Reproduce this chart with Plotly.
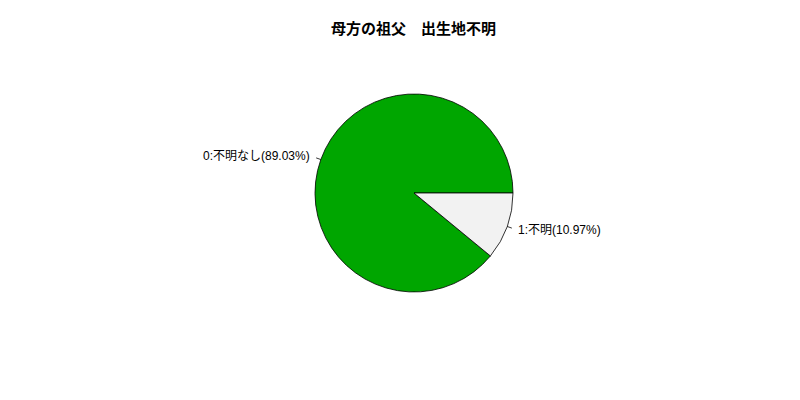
import numpy as np
import plotly.graph_objects as go

title = "母方の祖父　出生地不明"
labels = ["0:不明なし", "1:不明"]
shares = [89.03, 10.97]
colors = ["#00A600", "#F2F2F2"]

W, H = 800, 400
OFF = 8  # page body margin of the written html
cx, cy, r = 414 - OFF, 193 - OFF, 99  # pie centre / radius in px (from top)

def px2paper(x, y):
    return x / W, 1 - y / H

x0, y1 = px2paper(cx - r, cy - r)
x1, y0 = px2paper(cx + r, cy + r)

total = sum(shares)
fig = go.Figure(go.Pie(
    labels=labels, values=shares, sort=False,
    direction="counterclockwise",
    # first slice should start at 3 o'clock like R's pie()
    rotation=90 + 360 * (1 - shares[0] / total),
    marker=dict(colors=colors, line=dict(color="black", width=0.8)),
    textinfo="none", hoverinfo="label+percent",
    domain=dict(x=[x0, x1], y=[y0, y1]),
    showlegend=False,
))

# R-style labels: tick from r to 1.05r, text at 1.1r at each slice midpoint
start = 0.0
shapes, annos = [], []
for lab, v in zip(labels, shares):
    mid = np.deg2rad((start + v / 2) / total * 360)
    start += v
    c, s = np.cos(mid), np.sin(mid)
    ax0, ay0 = px2paper(cx + r * c, cy - r * s)
    ax1, ay1 = px2paper(cx + 1.05 * r * c, cy - 1.05 * r * s)
    tx, ty = px2paper(cx + 1.1 * r * c, cy - 1.1 * r * s)
    shapes.append(dict(type="line", xref="paper", yref="paper",
                       x0=ax0, y0=ay0, x1=ax1, y1=ay1,
                       line=dict(color="black", width=0.8)))
    annos.append(dict(xref="paper", yref="paper", x=tx, y=ty,
                      text=f"{lab}({v:.2f}%)", showarrow=False,
                      xanchor="right" if c < 0 else "left", yanchor="middle",
                      font=dict(size=12, color="black")))

annos.append(dict(xref="paper", yref="paper", x=(414 - OFF) / W, y=1 - (29 - OFF) / H,
                  text="<b>" + title + "</b>", showarrow=False,
                  xanchor="center", yanchor="middle",
                  font=dict(size=15, color="black")))

fig.update_layout(
    width=W, height=H,
    margin=dict(l=0, r=0, t=0, b=0),
    paper_bgcolor="white", plot_bgcolor="white",
    font=dict(family="Liberation Sans, Noto Sans CJK JP, sans-serif"),
    shapes=shapes, annotations=annos,
)

fig.write_html("out.html")
